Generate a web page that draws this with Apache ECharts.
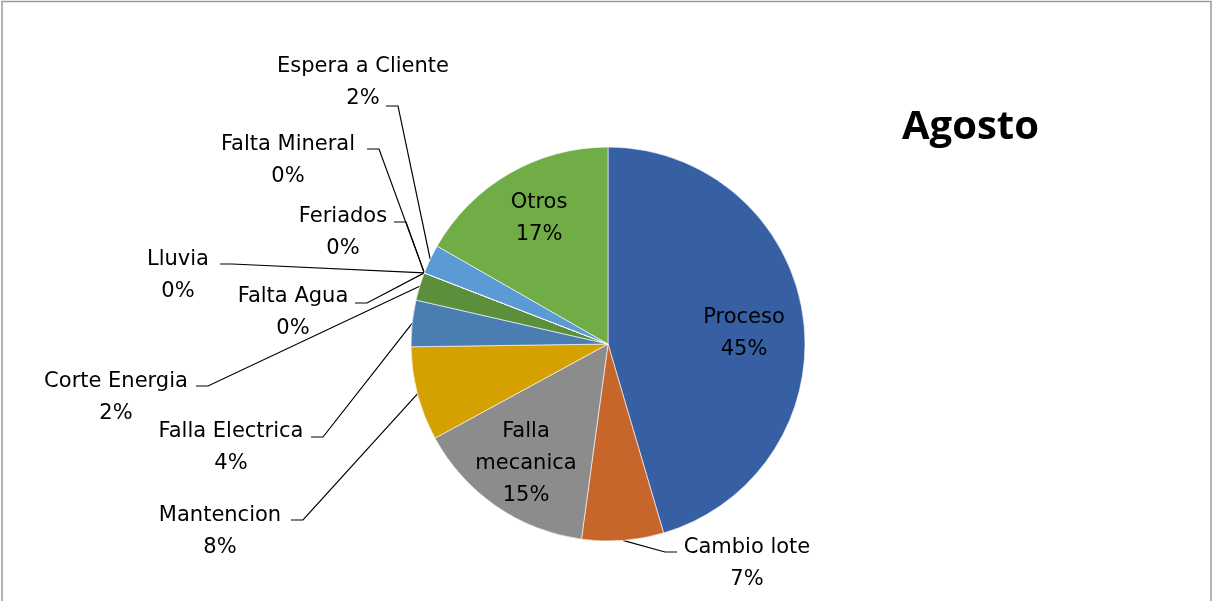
<!DOCTYPE html>
<html>
<head>
<meta charset="utf-8">
<script src="https://cdn.jsdelivr.net/npm/echarts@6/dist/echarts.min.js"></script>
<style>
  html, body { margin: 0; padding: 0; background: #fff; }
  #main { width: 1213px; height: 601px; }
</style>
</head>
<body>
<div id="main"></div>
<script>
// datos (orden horario desde las 12)
var categorias = ['Proceso', 'Cambio lote', 'Falla mecanica', 'Mantencion', 'Falla Electrica',
  'Corte Energia', 'Falta Agua', 'Lluvia', 'Feriados', 'Falta Mineral', 'Espera a Cliente', 'Otros']
var valores = [45.4, 6.7, 14.9, 7.7, 3.8, 2.3, 0, 0, 0, 0, 2.4, 16.7]
var colores = ['#3660A3', '#C6662A', '#8C8C8C', '#D5A100', '#4A7EB3',
  '#5B8F3B', '#A5A5A5', '#FFC000', '#264478', '#9E480E', '#5B9BD5', '#70AD47']

// etiquetas dentro del sector
var etiquetasDentro = ['Proceso', 'Falla mecanica', 'Otros']

// posicion de cada etiqueta (centro del bloque de texto)
var posEtiqueta = [
  [744, 334], [747, 564], [526, 464], [220, 532], [231, 448], [116, 398],
  [293, 313], [178, 276], [343, 233], [288, 161], [363, 83], [539, 219]
]
// fin de la linea guia [x, y, direccion del codo]
var finLinea = [
  null, [677, 552, -1], null, [291, 520, 1], [311, 437, 1], [196, 386, 1],
  [355, 303, 1], [220, 264, 1], [394, 222, 1], [367, 149, 1], [386, 106, 1], null
]

var centro = [608, 344]
var radio = 197

var total = valores.reduce(function (a, b) { return a + b }, 0)

var datos = categorias.map(function (nombre, i) {
  var item = { name: nombre, value: valores[i], itemStyle: { color: colores[i] } }
  if (etiquetasDentro.indexOf(nombre) >= 0) {
    item.label = { position: 'inside' }
    item.labelLine = { show: false }
  }
  return item
})

// punto medio del arco de cada sector (por si la libreria no entrega la linea)
function puntoArco(idx) {
  var acum = 0
  for (var i = 0; i < idx; i++) acum += valores[i]
  var a = (acum + valores[idx] / 2) / total * Math.PI * 2
  return [centro[0] + radio * Math.sin(a), centro[1] - radio * Math.cos(a)]
}

var myChart = echarts.init(document.getElementById('main'))

var option = {
  animation: false,
  textStyle: { fontFamily: 'DejaVu Sans' },
  title: {
    text: 'Agosto',
    left: 897,
    top: 103,
    textStyle: { fontFamily: 'Open Sans', fontSize: 40, fontWeight: 'bold', color: '#000' }
  },
  graphic: [{
    type: 'rect',
    shape: { x: 2, y: 1.5, width: 1209, height: 640 },
    style: { fill: 'none', stroke: '#9a9a9a', lineWidth: 1.5 },
    silent: true
  }],
  series: [
    {
      type: 'pie',
      center: centro,
      radius: radio,
      startAngle: 90,
      clockwise: true,
      avoidLabelOverlap: false,
      data: datos,
      itemStyle: { borderColor: '#ffffff', borderWidth: 0.6 },
      label: {
        position: 'outside',
        color: '#000',
        fontFamily: 'DejaVu Sans',
        fontSize: 21,
        lineHeight: 32,
        align: 'center',
        formatter: function (p) {
          var nombre = p.name === 'Falla mecanica' ? 'Falla\nmecanica' : p.name
          return nombre + '\n' + Math.round(p.value / total * 100) + '%'
        }
      },
      labelLine: {
        show: true,
        length: 10,
        length2: 10,
        lineStyle: { color: '#000', width: 1.2 }
      },
      labelLayout: function (params) {
        var i = params.dataIndex
        var res = {
          x: posEtiqueta[i][0],
          y: posEtiqueta[i][1],
          align: 'center',
          verticalAlign: 'middle',
          hideOverlap: false
        }
        var fin = finLinea[i]
        if (fin) {
          var p0 = (params.labelLinePoints && params.labelLinePoints[0]) || puntoArco(i)
          res.labelLinePoints = [p0, [fin[0] + fin[2] * 12, fin[1]], [fin[0], fin[1]]]
        }
        return res
      }
    }
  ]
}

myChart.setOption(option)
</script>
</body>
</html>
